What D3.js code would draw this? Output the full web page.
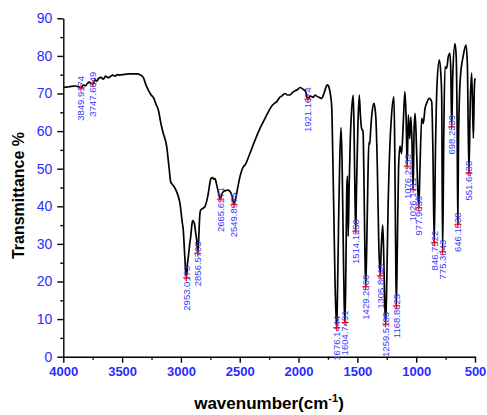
<!DOCTYPE html>
<html>
<head>
<meta charset="utf-8">
<script src="https://cdn.jsdelivr.net/npm/d3@7"></script>
<style>
  body { margin: 0; background: #fff; }
  svg { font-family: "Liberation Sans", Arial, sans-serif; }
</style>
</head>
<body>
<div id="chart"></div>
<script>
// spectrum (wavenumber cm-1, transmittance %)
const wavenumber = [
  4000, 3950, 3900, 3870, 3849.9, 3830, 3810, 3795, 3780, 3760, 3747.7, 3730, 3715, 3700, 3680, 3660, 3640,
  3620, 3600, 3580, 3560, 3540, 3520, 3480, 3440, 3400, 3370, 3348, 3320, 3300, 3277, 3250, 3235, 3210, 3192,
  3170, 3150, 3121, 3100, 3087, 3070, 3050, 3022, 3008, 2990, 2980, 2968, 2960, 2953, 2945,
  2937, 2925, 2917, 2905, 2900, 2886, 2875, 2866, 2856.6, 2848, 2840, 2832, 2810, 2795, 2780,
  2767, 2755, 2744, 2730, 2720, 2710, 2696, 2680, 2665.6, 2652, 2640, 2620, 2597, 2574, 2560,
  2549.9, 2535, 2521, 2498, 2470, 2455, 2413, 2370, 2328, 2285, 2250, 2228, 2200, 2186, 2160,
  2143, 2115, 2095, 2073, 2050, 2030, 2010, 1988, 1960, 1940, 1921.1, 1900, 1875, 1860, 1846,
  1820, 1803, 1790, 1775, 1756, 1745, 1739, 1728, 1718, 1710, 1700, 1690, 1680, 1676.1, 1670,
  1660, 1650, 1639, 1630, 1620, 1612, 1604.8, 1597, 1590, 1584, 1578, 1570, 1560, 1548, 1535,
  1527, 1520, 1514.1, 1507, 1495, 1484, 1474, 1464, 1452, 1443, 1436, 1429.3, 1420, 1410, 1402,
  1395, 1387, 1375, 1359, 1350, 1342, 1330, 1318, 1305.8, 1298, 1285, 1278, 1268, 1259.5, 1250,
  1240, 1225, 1210, 1189, 1182, 1175, 1168.9, 1160, 1150, 1138, 1124, 1110, 1096, 1086, 1076.2,
  1067, 1056, 1045, 1035, 1026.2, 1018, 1010, 1002, 990, 977.9, 968, 953, 940, 925, 911,
  889, 868, 858, 846.8, 836, 822, 803, 790, 783, 775.4, 765, 755, 741, 727, 713,
  705, 698.2, 688, 670, 660, 652, 646.2, 640, 625, 600, 577, 565, 551.6, 540, 528,
  514, 505, 500
];
const transmittance = [
  71.6, 71.8, 72.0, 71.8, 71.5, 72.2, 72.1, 72.7, 73.0, 72.6, 72.6, 73.6, 73.3, 74.0, 74.3, 73.8, 74.6,
  74.2, 74.5, 74.9, 74.6, 75.0, 74.9, 75.1, 75.2, 75.2, 75.2, 75.0, 74.3, 72.5, 70.9, 69.5, 69.0, 67.0, 65.6,
  62.0, 59.4, 55.9, 50.0, 46.5, 45.7, 44.8, 42.6, 40.8, 36.0, 33.7, 27.0, 23.0, 21.0, 24.5,
  26.6, 30.0, 31.9, 35.5, 36.2, 35.5, 33.0, 31.0, 27.5, 32.0, 37.5, 39.0, 39.5, 40.0, 41.5,
  43.5, 46.0, 47.4, 47.6, 47.2, 47.4, 45.7, 43.5, 41.9, 43.2, 43.9, 44.2, 44.3, 43.5, 42.0,
  40.5, 42.0, 44.3, 47.9, 50.5, 51.0, 54.1, 57.6, 60.7, 63.4, 65.5, 66.7, 67.5, 67.8, 69.0,
  69.3, 70.0, 69.6, 69.6, 70.3, 70.7, 71.0, 71.6, 71.1, 70.5, 68.5, 69.3, 69.0, 69.6, 69.3,
  68.9, 68.7, 69.5, 70.9, 72.3, 72.0, 71.4, 69.5, 66.5, 55.0, 38.0, 20.0, 10.0, 7.7, 15.0,
  35.0, 52.0, 60.9, 52.0, 30.0, 14.0, 9.1, 25.0, 45.0, 48.0, 32.0, 45.0, 58.0, 66.0, 69.6,
  58.0, 42.0, 33.4, 45.0, 62.0, 69.6, 64.0, 60.7, 60.0, 45.0, 28.0, 18.6, 30.0, 48.0, 57.0,
  56.5, 60.3, 65.0, 67.4, 66.0, 63.0, 50.0, 30.0, 21.5, 28.0, 35.0, 30.0, 15.0, 8.7, 20.0,
  38.0, 55.0, 64.0, 69.1, 55.0, 30.0, 13.5, 30.0, 50.0, 56.0, 54.0, 62.0, 70.5, 64.0, 50.7,
  64.3, 58.0, 63.8, 56.0, 44.5, 60.0, 64.7, 60.3, 48.0, 39.6, 50.0, 63.4, 62.0, 66.0, 67.4,
  68.7, 67.8, 55.0, 30.3, 55.0, 73.0, 78.9, 75.0, 69.0, 27.9, 60.0, 77.1, 76.7, 79.8, 80.7,
  75.0, 61.1, 76.0, 83.3, 80.0, 62.0, 35.2, 58.0, 74.0, 80.0, 82.9, 78.0, 48.9, 68.0, 75.4,
  58.1, 72.0, 74.0
];

// peak picks
const peakWn = [3849.9, 3747.7, 2953, 2856.6, 2665.6, 2549.9, 1921.1, 1676.1, 1604.8, 1514.1,
  1429.3, 1305.8, 1259.5, 1168.9, 1076.2, 1026.2, 977.9, 846.8, 775.4, 698.2, 646.2, 551.6];
const peakT = [71.5, 72.6, 21.0, 27.5, 41.9, 40.5, 68.5, 7.7, 9.1, 33.4,
  18.6, 21.5, 8.7, 13.5, 50.7, 44.5, 39.6, 30.3, 27.9, 61.1, 35.2, 48.9];
const peakText = ["3849.9174", "3747.6849", "2953.0173", "2856.5765", "2665.6271", "2549.8975",
  "1921.1074", "1676.1444", "1604.7491", "1514.1256", "1429.2866", "1305.8043", "1259.5185",
  "1168.8625", "1076.2233", "1026.1711", "977.9059", "846.7522", "775.3843", "698.2339",
  "646.1538", "551.6438"];

const xTicks = [4000, 3500, 3000, 2500, 2000, 1500, 1000, 500];
const xMinor = [3750, 3250, 2750, 2250, 1750, 1250, 750];
const yTicks = [0, 10, 20, 30, 40, 50, 60, 70, 80, 90];
const yMinor = [5, 15, 25, 35, 45, 55, 65, 75, 85];

const width = 487, height = 415;
const margin = { top: 18.3, right: 12, bottom: 58.3, left: 63.3 };

const svg = d3.select("#chart").append("svg")
  .attr("width", width)
  .attr("height", height);

const x = d3.scaleLinear()
  .domain([4000, 500])
  .range([margin.left, width - margin.right]);

const y = d3.scaleLinear()
  .domain([0, 90])
  .range([height - margin.bottom, margin.top]);

const blue = "#2b2bff";

// axes
const gx = svg.append("g")
  .attr("transform", `translate(0,${y(0)})`)
  .call(d3.axisBottom(x).tickValues(xTicks).tickFormat(d3.format("d"))
    .tickSize(6).tickSizeOuter(0).tickPadding(4));
gx.selectAll("text").attr("font-size", 13).attr("font-weight", "bold").attr("fill", blue)
  .attr("font-family", "Liberation Sans, Arial, sans-serif");
svg.append("g")
  .attr("transform", `translate(0,${y(0)})`)
  .call(d3.axisBottom(x).tickValues(xMinor).tickSize(3).tickFormat(""))
  .call(g => g.select(".domain").remove());

const gy = svg.append("g")
  .attr("transform", `translate(${x(4000)},0)`)
  .call(d3.axisLeft(y).tickValues(yTicks).tickSize(6).tickSizeOuter(0).tickPadding(5));
gy.selectAll("text").attr("font-size", 14).attr("fill", blue)
  .attr("font-family", "Liberation Sans, Arial, sans-serif");
svg.append("g")
  .attr("transform", `translate(${x(4000)},0)`)
  .call(d3.axisLeft(y).tickValues(yMinor).tickSize(3).tickFormat(""))
  .call(g => g.select(".domain").remove());

svg.selectAll(".domain, .tick line").attr("stroke", "#000").attr("stroke-width", 1.4);

// spectrum
const pts = wavenumber.map((w, i) => [w, transmittance[i]]);
svg.append("path")
  .datum(pts)
  .attr("fill", "none")
  .attr("stroke", "#000")
  .attr("stroke-width", 1.7)
  .attr("stroke-linejoin", "round")
  .attr("d", d3.line().x(d => x(d[0])).y(d => y(d[1])).curve(d3.curveMonotoneX));

// peak markers and labels
const peaks = peakWn.map((w, i) => ({ w, t: peakT[i], s: peakText[i] }));
const pk = svg.append("g").selectAll("g").data(peaks).join("g")
  .attr("transform", d => `translate(${x(d.w)},${y(d.t)})`);
pk.append("text")
  .attr("transform", "translate(0,-12) rotate(-90)")
  .attr("dy", "0.35em")
  .attr("text-anchor", "end")
  .attr("font-size", 9.5)
  .attr("fill", "#3a3aff")
  .text(d => d.s);
pk.append("path")
  .attr("d", "M-3.5,0H3.5M0,-3.5V3.5")
  .attr("stroke", "red")
  .attr("stroke-width", 1);

// axis titles
svg.append("text")
  .attr("transform", `translate(24,${(y(0) + y(90)) / 2 + 8}) rotate(-90)`)
  .attr("text-anchor", "middle")
  .attr("font-size", 16)
  .attr("font-weight", "bold")
  .text("Transmittance %");

const xt = svg.append("text")
  .attr("x", 269)
  .attr("y", 409)
  .attr("text-anchor", "middle")
  .attr("font-size", 17)
  .attr("font-weight", "bold");
xt.append("tspan").text("wavenumber(cm");
xt.append("tspan").attr("font-size", 11).attr("dy", -7).text("-1");
xt.append("tspan").attr("dy", 7).text(")");
</script>
</body>
</html>
